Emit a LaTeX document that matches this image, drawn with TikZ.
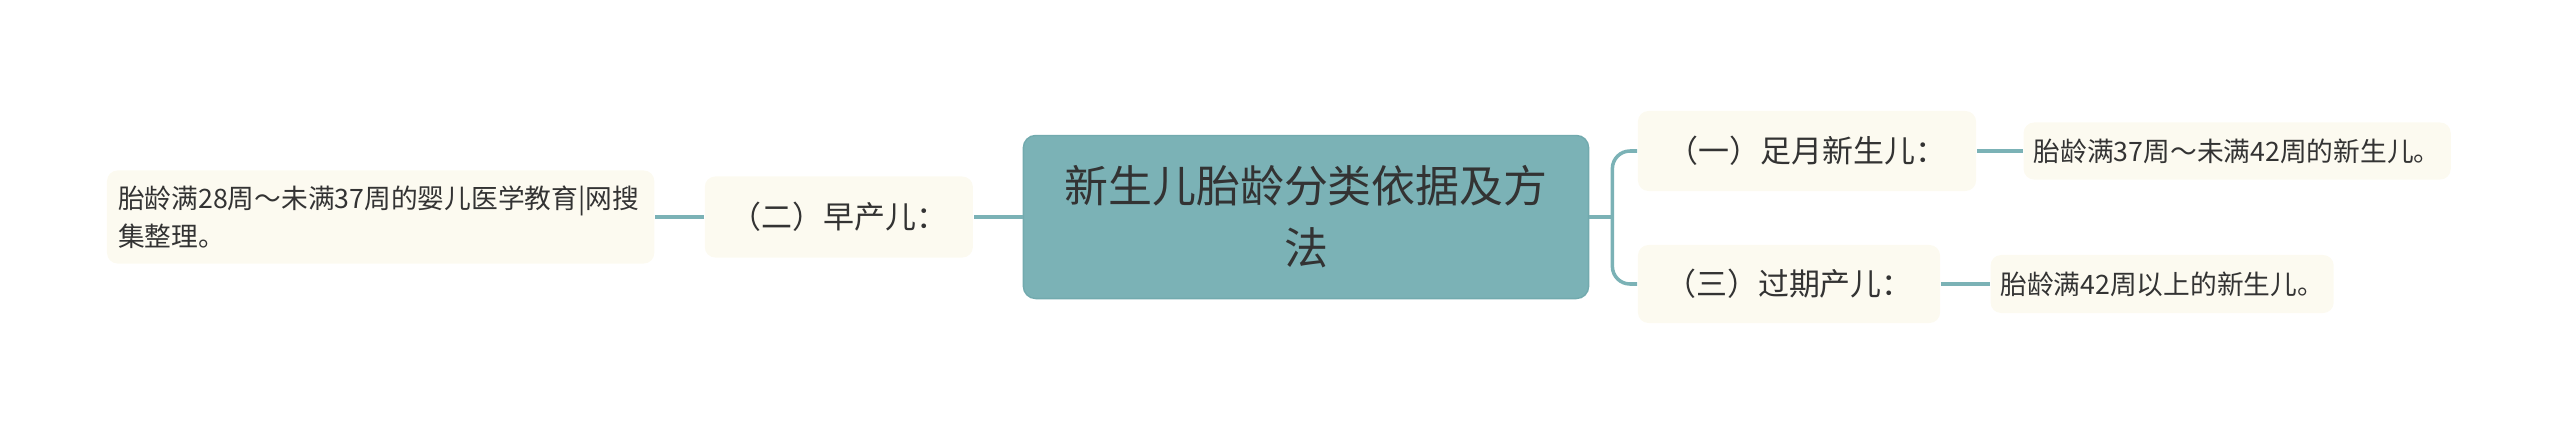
\documentclass[tikz,border=0pt]{standalone}
\usepackage{fontspec}
\setmainfont{Noto Sans CJK SC}
\usetikzlibrary{positioning}
\definecolor{rootfill}{HTML}{7BB2B6}
\definecolor{rootline}{HTML}{72AAAE}
\definecolor{boxfill}{HTML}{FCFAF0}
\definecolor{ink}{HTML}{333333}
\tikzset{link/.style={draw=rootfill, line width=1pt}}

\begin{document}
\begin{tikzpicture} [x=0.01cm, y=-0.01cm,
    root/.style = {draw=rootline, fill=rootfill, rounded corners=3.5pt, text=ink, align=center,
                   font=\fontsize{12.5pt}{17.6pt}\selectfont, inner sep=0pt},
    branch/.style = {fill=boxfill, rounded corners=3pt, text=ink, inner sep=0pt,
                     font=\fontsize{8.8pt}{10.6pt}\selectfont},
    leaf/.style = {fill=boxfill, rounded corners=3pt, text=ink, inner sep=0pt,
                   font=\fontsize{7.6pt}{10.7pt}\selectfont}]
    \useasboundingbox (0,0) rectangle (2560,436);
    % central topic
    \node[root, minimum width=5.65cm, minimum height=1.63cm] (root) at (1306,217) {新生儿胎龄分类依据及方\\法};
    % branches
    \node[branch, minimum width=3.38cm, minimum height=0.80cm] (b1) at (1807,151) {（一）足月新生儿：};
    \node[branch, minimum width=3.02cm, minimum height=0.78cm] (b3) at (1789,284) {（三）过期产儿：};
    \node[branch, minimum width=2.68cm, minimum height=0.81cm, left=0.49cm of root] (b2) {（二）早产儿：};
    % leaves
    \node[leaf, minimum width=4.27cm, minimum height=0.57cm, right=0.46cm of b1] (l1) {胎龄满37周～未满42周的新生儿。};
    \node[leaf, minimum width=3.43cm, minimum height=0.58cm, right=0.49cm of b3] (l3) {胎龄满42周以上的新生儿。};
    \node[leaf, minimum width=5.47cm, minimum height=0.93cm, left=0.49cm of b2, align=left, text width=5.25cm] (l2) {胎龄满28周～未满37周的婴儿医学教育|网搜\\集整理。};
    % connectors
    \coordinate[right=0.23cm of root.east] (fork);
    \draw[link] (root.east) -- (fork);
    \draw[link, rounded corners=5pt] (fork) |- (b1.west);
    \draw[link, rounded corners=5pt] (fork) |- (b3.west);
    \foreach \i\j in {root/b2, b2/l2} {
        \draw[link] (\i.west) -- (\j.east);
    }
    \foreach \i\j in {b1/l1, b3/l3} {
        \draw[link] (\i.east) -- (\j.west);
    }
\end{tikzpicture}
\end{document}
